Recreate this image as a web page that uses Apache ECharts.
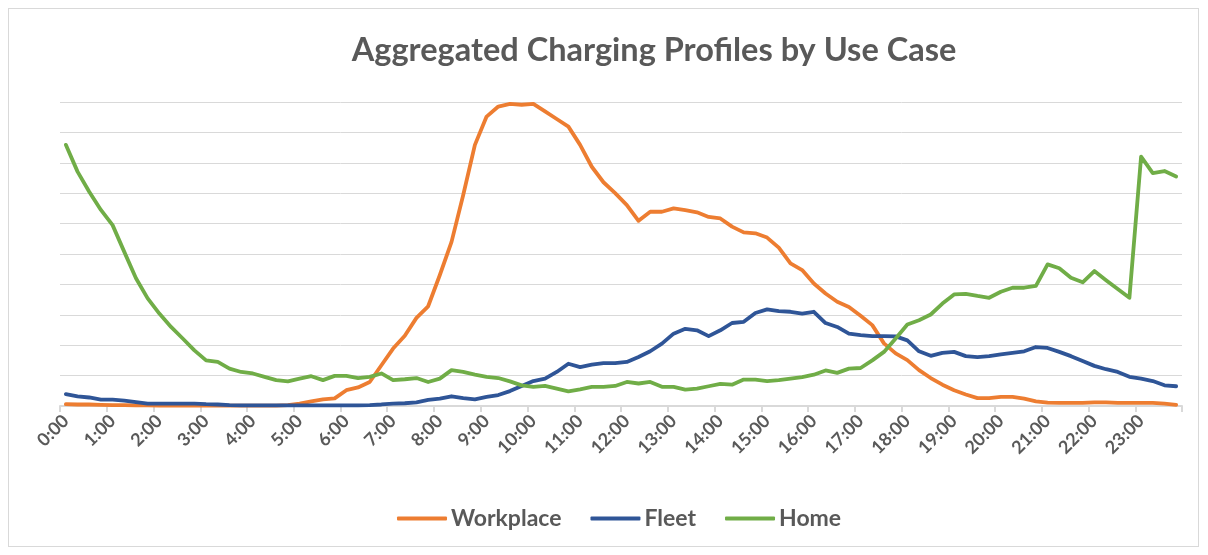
<!DOCTYPE html>
<html>
<head>
<meta charset="utf-8">
<script src="https://cdn.jsdelivr.net/npm/echarts@6/dist/echarts.min.js"></script>
<style>
html,body{margin:0;padding:0;background:#fff;}
#frame{position:absolute;left:8px;top:8px;width:1191px;height:539px;border:1px solid #d9d9d9;box-sizing:border-box;}
#chart{position:absolute;left:0;top:0;width:1208px;height:555px;}
</style>
</head>
<body>
<div id="frame"></div>
<div id="chart"></div>
<script>
// 15-minute time slots 0:00 .. 23:45
const categories = [];
for (let h = 0; h < 24; h++) {
  for (let m = 0; m < 60; m += 15) {
    categories.push(h + ':' + (m === 0 ? '00' : String(m)));
  }
}

const workplace = [
  0.6,0.5,0.5,0.4,0.3,0.3,
  0.2,0.2,0.1,0.1,0.1,0.1,0.1,0.1,0.1,0.1,0.1,0.1,0.1,0.3,
  0.8,1.5,2.2,2.5,5.2,6.1,7.9,13.4,18.9,23.1,29.0,32.8,
  43.1,54.0,69.4,85.9,95.2,98.5,99.4,99.1,99.4,96.9,94.4,91.9,85.9,78.7,73.6,70.0,
  66.1,60.9,63.9,63.9,65.0,64.4,63.7,62.2,61.7,59.0,57.1,56.8,55.4,52.1,46.9,
  44.7,40.3,37.0,34.3,32.6,29.7,26.6,20.6,17.3,15.1,11.8,9.2,7.0,5.2,3.8,2.6,
  2.6,3.0,3.0,2.4,1.5,1.1,1.0,1.0,1.0,1.2,1.2,1.0,1.0,1.0,1.0,0.8,0.4
];

const fleet = [
  3.9,3.2,2.8,2.1,2.1,1.8,1.3,0.8,0.8,0.8,0.8,0.8,0.6,0.5,0.3,0.2,
  0.2,0.2,0.2,0.2,0.2,0.2,0.2,0.2,0.2,0.2,0.3,0.5,0.8,0.9,1.2,2.0,
  2.4,3.2,2.6,2.2,3.0,3.6,4.9,6.6,8.2,9.0,11.2,13.9,12.8,13.6,14.1,14.1,
  14.5,16.1,18.0,20.5,23.8,25.4,24.9,23.0,24.9,27.3,27.7,30.6,31.8,31.2,31.0,
  30.4,31.0,27.3,26.0,23.8,23.3,23.0,23.0,22.9,21.6,18.0,16.5,17.5,17.8,16.4,16.1,
  16.4,17.0,17.5,18.0,19.4,19.1,17.8,16.4,14.8,13.2,12.1,11.2,9.6,9.0,8.2,6.8,6.5
];

const home = [
  85.9,77.1,70.5,64.5,59.5,50.7,42.0,35.4,30.4,26.0,22.2,18.3,15.0,14.5,12.3,11.2,
  10.7,9.6,8.5,8.1,9.0,9.8,8.5,9.9,9.9,9.2,9.6,10.7,8.5,8.8,9.2,7.9,
  9.0,11.8,11.2,10.3,9.6,9.2,8.1,6.8,6.3,6.6,5.7,4.8,5.5,6.3,6.3,6.6,
  7.9,7.4,7.9,6.3,6.3,5.4,5.7,6.5,7.3,7.0,8.7,8.7,8.2,8.5,9.0,
  9.5,10.3,11.7,10.9,12.3,12.5,15.0,17.8,22.2,26.8,28.2,30.1,33.7,36.7,36.9,36.2,
  35.6,37.6,38.9,38.9,39.5,46.6,45.3,42.2,40.7,44.4,41.4,38.5,35.6,82.0,76.6,77.3,75.5
];

const titleText = 'Aggregated Charging Profiles by Use Case';
const seriesNames = ['Workplace', 'Fleet', 'Home'];
const colors = ['#ED7D31', '#2F5597', '#70AD47'];

const chart = echarts.init(document.getElementById('chart'), null, {renderer: 'canvas'});
const font = 'Lato, "Open Sans", sans-serif';
const mk = (name, data, i) => ({
  name: name, type: 'line', data: data, symbol: 'none', smooth: false,
  lineStyle: {width: 3.8, color: colors[i], cap: 'round', join: 'round'},
  itemStyle: {color: colors[i]}
});
chart.setOption({
  animation: false,
  title: {
    text: titleText, left: 649, textAlign: 'center', top: 29,
    textStyle: {fontFamily: font, fontSize: 32.5, fontWeight: 'bold', color: '#595959'}
  },
  legend: {
    data: seriesNames, top: 502, left: 392, itemWidth: 50, itemHeight: 4, itemGap: 29,
    icon: 'roundRect',
    textStyle: {fontFamily: font, fontSize: 23, color: '#595959', fontWeight: 'bold', padding: [0, 0, 0, -1]}
  },
  grid: {left: 60, right: 26, top: 102, bottom: 149, containLabel: false},
  xAxis: {
    type: 'category', data: categories, boundaryGap: true,
    axisLine: {lineStyle: {color: '#d9d9d9', width: 2}},
    axisTick: {show: true, interval: 3, length: 6, lineStyle: {color: '#d9d9d9', width: 2}},
    axisLabel: {interval: 3, rotate: 45, fontFamily: font, fontSize: 18, fontWeight: 'bold', color: '#595959', margin: 12}
  },
  yAxis: {
    type: 'value', min: 0, max: 100, interval: 10,
    axisLabel: {show: false}, axisLine: {show: false}, axisTick: {show: false},
    splitLine: {lineStyle: {color: '#d9d9d9', width: 1}}
  },
  series: [mk(seriesNames[0], workplace, 0), mk(seriesNames[1], fleet, 1), mk(seriesNames[2], home, 2)]
});
</script>
</body>
</html>
